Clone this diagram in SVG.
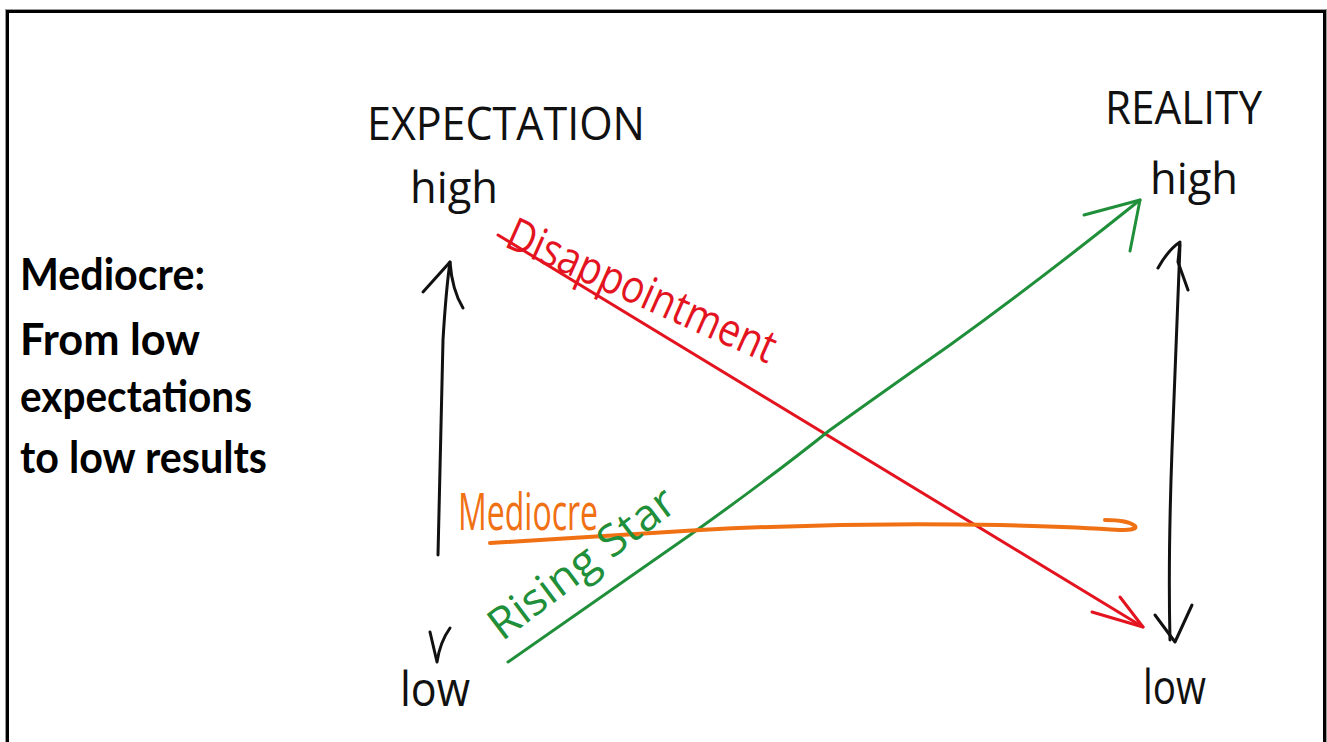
<svg xmlns="http://www.w3.org/2000/svg" width="1327" height="742" viewBox="0 0 1327 742">
<style>
.hand{font-family:"Open Sans","DejaVu Sans",sans-serif;font-weight:400;}
.blk{fill:#111;}
.note{font-family:"Lato","Liberation Sans",sans-serif;font-weight:700;font-size:44px;fill:#000;}
.ln{fill:none;stroke-linecap:round;stroke-linejoin:round;stroke-width:3;}
.k{stroke:#111;}
.r{stroke:#e3141f;}
.g{stroke:#1f8f3a;}
.o{stroke:#f07014;stroke-width:4;}
</style>
<rect x="0" y="0" width="1327" height="742" fill="#fff"/>
<rect x="7.5" y="11.5" width="1317" height="745" fill="none" stroke="#000" stroke-width="3"/>
<rect x="5.5" y="9.5" width="1321" height="749" fill="none" stroke="#999" stroke-width="1"/>

<g id="note">
<text class="note" x="20" y="290" textLength="185" lengthAdjust="spacingAndGlyphs">Mediocre:</text>
<text class="note" x="20" y="355" textLength="180" lengthAdjust="spacingAndGlyphs">From low</text>
<text class="note" x="20" y="412" textLength="232" lengthAdjust="spacingAndGlyphs">expectations</text>
<text class="note" x="20" y="473" textLength="247" lengthAdjust="spacingAndGlyphs">to low results</text>
</g>

<g id="expectation">
<text class="hand blk" x="367" y="140" font-size="46" textLength="278" lengthAdjust="spacingAndGlyphs">EXPECTATION</text>
<text class="hand blk" x="410" y="203" font-size="44" textLength="88" lengthAdjust="spacingAndGlyphs">high</text>
<text class="hand blk" x="400" y="706" font-size="48" textLength="70" lengthAdjust="spacingAndGlyphs">low</text>
</g>

<g id="reality">
<text class="hand blk" x="1105" y="124" font-size="46" textLength="157" lengthAdjust="spacingAndGlyphs">REALITY</text>
<text class="hand blk" x="1150" y="194" font-size="44" textLength="88" lengthAdjust="spacingAndGlyphs">high</text>
<text class="hand blk" x="1143" y="704" font-size="48" textLength="63" lengthAdjust="spacingAndGlyphs">low</text>
</g>

<g id="connectors">
<!-- expectation axis -->
<path class="ln k" d="M438,555 Q441,420 443,340 Q446,290 450,262"/>
<path class="ln k" d="M423,292 L450,262 Q452,290 463,308"/>
<path class="ln k" d="M430,632 L437,662 Q440,642 450,628"/>
<!-- reality axis -->
<path class="ln k" d="M1180,245 Q1176,350 1172,450 Q1168,560 1170,640"/>
<path class="ln k" d="M1158,268 Q1168,250 1180,242 L1178,262 L1188,290"/>
<path class="ln k" d="M1155,615 L1175,642 L1192,605"/>
<!-- disappointment -->
<path class="ln r" d="M498,235 L1143,627"/>
<path class="ln r" d="M1092,612 L1143,627 L1120,597"/>
<!-- rising star -->
<path class="ln g" d="M508,662 Q600,598 690,535 Q770,478 830,430 Q900,380 950,345 Q1040,280 1140,200"/>
<path class="ln g" d="M1084,215 L1140,200 L1130,251"/>
<!-- mediocre -->
<path class="ln o" d="M490,543 Q600,536 700,530 Q850,522 1000,525 Q1080,527 1120,530 Q1138,530 1135,526 Q1128,520 1105,520"/>
</g>

<g id="labels">
<text class="hand" x="503" y="246" font-size="46" fill="#e3141f" transform="rotate(24 503 246)" textLength="290" lengthAdjust="spacingAndGlyphs">Disappointment</text>
<text class="hand" x="458" y="530" font-size="52" fill="#f07014" textLength="140" lengthAdjust="spacingAndGlyphs">Mediocre</text>
<text class="hand" x="502" y="642" font-size="44" fill="#1f8f3a" transform="rotate(-37 502 642)" textLength="222" lengthAdjust="spacingAndGlyphs">Rising Star</text>
</g>
</svg>
